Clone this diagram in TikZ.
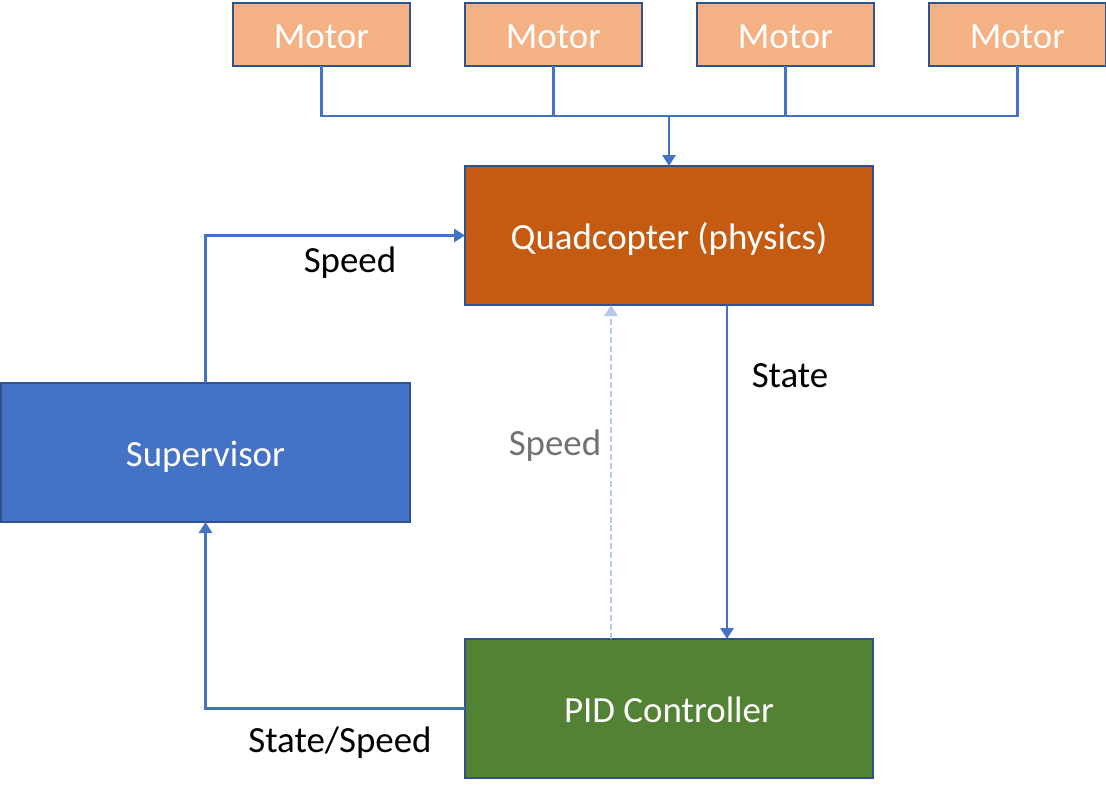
\documentclass[tikz,border=0pt]{standalone}
\usepackage{fontspec}
\setmainfont{Carlito}
\usetikzlibrary{arrows.meta}
\definecolor{motorfill}{HTML}{F4B183}
\definecolor{boxline}{HTML}{2F528F}
\definecolor{quadfill}{HTML}{C55A11}
\definecolor{supfill}{HTML}{4472C4}
\definecolor{pidfill}{HTML}{548235}
\definecolor{wirecol}{HTML}{4472C4}
\definecolor{faintwire}{HTML}{B4C7E7}
\definecolor{graytext}{HTML}{767171}

\begin{document}
\begin{tikzpicture}[
    font=\fontsize{21}{25}\selectfont,
    block/.style={draw=boxline, line width=1pt, text=white, outer sep=0pt,
        text height=19.5pt, text depth=4.1pt,
        minimum width=8.16cm, minimum height=2.78cm},
    motorbox/.style={block, fill=motorfill, minimum width=3.54cm, minimum height=1.26cm},
    wire/.style={draw=wirecol, line width=1.6pt},
    flow/.style={wire, -{Triangle[width=0.26cm, length=0.22cm]}}
]
    \useasboundingbox (0,0) rectangle (22.12,-15.7);
    \node [motorbox] (m1) at (6.43, -0.69) {Motor};
    \node [motorbox] (m2) at (11.07, -0.69) {Motor};
    \node [motorbox] (m3) at (15.71, -0.69) {Motor};
    \node [motorbox] (m4) at (20.35, -0.69) {Motor};
    \node [block, fill=quadfill] (quad) at (13.38, -4.71) {Quadcopter (physics)};
    \node [block, fill=supfill, minimum width=8.18cm] (sup) at (4.11, -9.05) {Supervisor};
    \node [block, fill=pidfill] (pid) at (13.38, -14.17) {PID Controller};
    \coordinate (bus) at (13.38, -2.32);
    \draw [wire] (m1.south) |- (m4.south |- bus) -- (m4.south);
    \draw [wire] (m2.south) -- (m2.south |- bus);
    \draw [wire] (m3.south) -- (m3.south |- bus);
    \draw [flow] (bus) -- (quad.north);
    \draw [flow] (sup.north) |- (quad.west);
    \draw [flow] ([xshift=1.16cm]quad.south) -- ([xshift=1.16cm]pid.north);
    \draw [flow, draw=faintwire, dash pattern=on 3.4pt off 1.7pt] ([xshift=-1.16cm]pid.north) -- ([xshift=-1.16cm]quad.south);
    \draw [flow] (pid.west) -| (sup.south);
    \node (lspeed) at (7.0, -5.26) {Speed};
    \node (lstate) at (15.8, -7.52) {State};
    \node [text=graytext] (lpidspeed) at (11.1, -8.92) {Speed};
    \node (lfeedback) at (6.8, -14.86) {State/Speed};
\end{tikzpicture}
\end{document}
